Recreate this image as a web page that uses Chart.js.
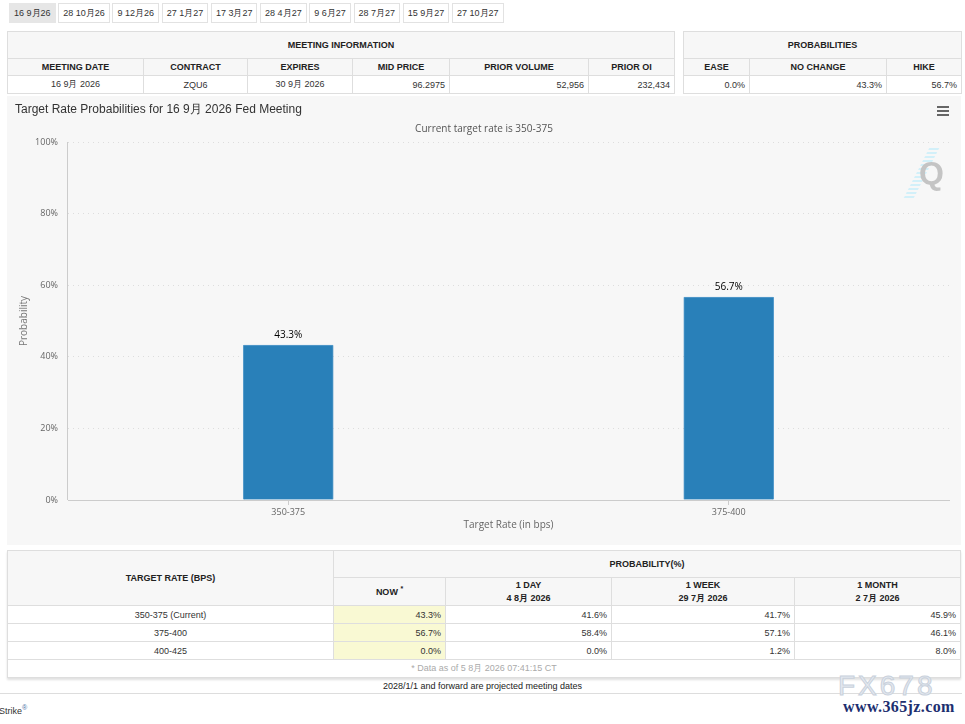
<!DOCTYPE html>
<html>
<head>
<meta charset="utf-8">
<script src="https://cdn.jsdelivr.net/npm/chart.js@4.4.1/dist/chart.umd.min.js"></script>
<style>
  body { margin: 0; width: 965px; height: 724px; overflow: hidden; position: relative; background: #fff;
         font-family: "Liberation Sans", Arial, sans-serif; color: #333; }
  .tabs { position: absolute; left: 9px; top: 3px; white-space: nowrap; font-size: 9px; display: flex; }
  .tabs span { display: block; box-sizing: border-box; height: 20px; line-height: 18px; padding: 0 4px;
               border: 1px solid #e2e2e2; margin-right: 2.7px; color: #333; }
  .tabs span.on { background: #e6e6e6; border-color: #e6e6e6; }
  table { position: absolute; border-collapse: collapse; table-layout: fixed; font-size: 9px; }
  th, td { border: 1px solid #dedede; padding: 0 4px; overflow: hidden; white-space: nowrap; }
  th { background: #f7f7f7; font-weight: bold; color: #222; text-align: center; }
  td { background: #fff; color: #333; }
  td.c { text-align: center; }
  td.r { text-align: right; }
  td.now { background: #f9f9d3; }
  td.note { text-align: center; color: #aaa; }
  sup { font-size: 7px; vertical-align: 4px; line-height: 0; }
  #probTable { box-shadow: 0 2px 2px rgba(0,0,0,0.12); }
  #panel { position: absolute; left: 7px; top: 96px; width: 954px; height: 449px; background: #f7f7f7; }
  #panel canvas { position: absolute; left: 0; top: 0; }
  #title { position: absolute; left: 8px; top: 5px; font-size: 12px; color: #333; }
  #subtitle { position: absolute; left: 0; width: 954px; top: 25px; text-align: center;
              font-family: "Open Sans", sans-serif; font-size: 10px; color: #555; }
  #menu { position: absolute; left: 930px; top: 10px; width: 12px; }
  #menu i { display: block; height: 2px; background: #666; margin-bottom: 2px; }
  #logoStripes { position: absolute; left: 909px; top: 52px; width: 10px; height: 52px; transform: skewX(-27deg);
                 background: repeating-linear-gradient(to bottom, #d2f0f9 0 2px, transparent 2px 4px); }
  #logoQ { position: absolute; left: 912px; top: 59px; font-size: 32px; font-weight: bold; color: #c4c4c4;
           font-family: "Liberation Sans", Arial, sans-serif; }
  #proj { position: absolute; left: 0; width: 965px; top: 681px; text-align: center; font-size: 9px; color: #222; }
  #projLine { position: absolute; left: 0; width: 962px; top: 693px; height: 1px; background: #ddd; }
  #strike { position: absolute; left: -1px; top: 706px; font-size: 9px; color: #333; }
  #strike sup { color: #4a6fa5; }
  #wm1 { position: absolute; left: 838px; top: 670px; font-size: 28px; letter-spacing: 3px; color: #e4e9f0;
         -webkit-text-stroke: 1px #c9d1dc; font-family: "Liberation Sans", Arial, sans-serif; }
  #wm2 { position: absolute; left: 843px; top: 698px; font-size: 16px; font-weight: bold; color: #1d2f6f;
         font-family: "Liberation Serif", serif; letter-spacing: 0.4px; }
</style>
</head>
<body>
<div class="tabs" id="tabs"></div>

<table id="meetTable" style="left:7px;top:31px;width:667px"></table>
<table id="oddsTable" style="left:683px;top:31px;width:278px"></table>

<div id="panel">
  <canvas id="myChart" width="954" height="449"></canvas>
  <div id="title">Target Rate Probabilities for 16 9月 2026 Fed Meeting</div>
  <div id="subtitle">Current target rate is 350-375</div>
  <div id="menu"><i></i><i></i><i></i></div>
  <div id="logoStripes"></div>
  <div id="logoQ">Q</div>
</div>

<table id="probTable" style="left:7px;top:550px;width:953px"></table>

<div id="proj">2028/1/1 and forward are projected meeting dates</div>
<div id="projLine"></div>
<div id="strike">Strike<sup>®</sup></div>
<div id="wm1">FX678</div>
<div id="wm2">www.365jz.com</div>

<script>
// datos
const meetingTabs = ['16 9月26', '28 10月26', '9 12月26', '27 1月27', '17 3月27', '28 4月27', '9 6月27', '28 7月27', '15 9月27', '27 10月27']

const meetingCols = ['MEETING DATE', 'CONTRACT', 'EXPIRES', 'MID PRICE', 'PRIOR VOLUME', 'PRIOR OI']
const meetingVals = ['16 9月 2026', 'ZQU6', '30 9月 2026', '96.2975', '52,956', '232,434']
const meetingWidths = [136, 104, 105, 97, 139, 86]
const meetingAlign = ['c', 'c', 'c', 'r', 'r', 'r']

const oddsCols = ['EASE', 'NO CHANGE', 'HIKE']
const oddsVals = ['0.0%', '43.3%', '56.7%']
const oddsWidths = [66, 137, 75]

const rateLabels = ['350-375', '375-400']
const rateProbs = [43.3, 56.7]

const targetRates = ['350-375 (Current)', '375-400', '400-425']
const nowProbs = [43.3, 56.7, 0.0]
const dayProbs = [41.6, 58.4, 0.0]
const weekProbs = [41.7, 57.1, 1.2]
const monthProbs = [45.9, 46.1, 8.0]
const periodHeads = [['1 DAY', '4 8月 2026'], ['1 WEEK', '29 7月 2026'], ['1 MONTH', '2 7月 2026']]
const probWidths = [326, 112, 166, 183, 166]
const dataNote = '* Data as of 5 8月 2026 07:41:15 CT'

/*
  Tablas HTML
*/

document.getElementById('tabs').innerHTML = meetingTabs
    .map((t, i) => `<span class="${i === 0 ? 'on' : ''}">${t}</span>`).join('')

const cols = widths => '<colgroup>' + widths.map(w => `<col style="width:${w}px">`).join('') + '</colgroup>'

document.getElementById('meetTable').innerHTML = cols(meetingWidths) +
    `<tr><th colspan="6" style="height:26px">MEETING INFORMATION</th></tr>` +
    `<tr>${meetingCols.map(c => `<th style="height:16px">${c}</th>`).join('')}</tr>` +
    `<tr>${meetingVals.map((v, i) => `<td class="${meetingAlign[i]}" style="height:17px">${v}</td>`).join('')}</tr>`

document.getElementById('oddsTable').innerHTML = cols(oddsWidths) +
    `<tr><th colspan="3" style="height:26px">PROBABILITIES</th></tr>` +
    `<tr>${oddsCols.map(c => `<th style="height:16px">${c}</th>`).join('')}</tr>` +
    `<tr>${oddsVals.map(v => `<td class="r" style="height:17px">${v}</td>`).join('')}</tr>`

const pct = v => v.toFixed(1) + '%'

document.getElementById('probTable').innerHTML = cols(probWidths) +
    `<tr><th rowspan="2">TARGET RATE (BPS)</th><th colspan="4" style="height:26px">PROBABILITY(%)</th></tr>` +
    `<tr><th style="height:27px">NOW <sup>*</sup></th>` +
    periodHeads.map(h => `<th style="line-height:13px">${h[0]}<br>${h[1]}</th>`).join('') + `</tr>` +
    targetRates.map((r, i) =>
        `<tr><td class="c" style="height:17px">${r}</td><td class="r now">${pct(nowProbs[i])}</td>` +
        `<td class="r">${pct(dayProbs[i])}</td><td class="r">${pct(weekProbs[i])}</td><td class="r">${pct(monthProbs[i])}</td></tr>`
    ).join('') +
    `<tr><td class="note" colspan="5" style="height:17px">${dataNote}</td></tr>`

/*
  Chart.js
*/

const fontAxis = '"Open Sans", sans-serif'

// etiquetas encima de cada barra
const barLabels = {
    id: 'barLabels',
    afterDatasetsDraw(chart) {
        const ctx = chart.ctx
        const meta = chart.getDatasetMeta(0)
        ctx.save()
        ctx.font = '10px ' + fontAxis
        ctx.fillStyle = '#000'
        ctx.textAlign = 'center'
        ctx.textBaseline = 'middle'
        meta.data.forEach((bar, i) => ctx.fillText(pct(rateProbs[i]), bar.x, bar.y - 10))
        ctx.restore()
    }
}

// linea solida del eje Y
const yAxisLine = {
    id: 'yAxisLine',
    afterDraw(chart) {
        const { ctx, chartArea } = chart
        ctx.save()
        ctx.strokeStyle = '#cccccc'
        ctx.lineWidth = 1
        ctx.beginPath()
        ctx.moveTo(Math.round(chartArea.left) - 0.5, chartArea.top)
        ctx.lineTo(Math.round(chartArea.left) - 0.5, chartArea.bottom)
        ctx.stroke()
        ctx.restore()
    }
}

const ctx = document.getElementById('myChart').getContext('2d')
const myChart = new Chart(ctx, {
    type: 'bar',
    data: {
        labels: rateLabels,
        datasets: [{
            label: 'Probability',
            data: rateProbs,
            backgroundColor: '#2980b9',
            borderColor: '#5a9dcc',
            borderWidth: 1,
            borderRadius: 1,
            barThickness: 90
        }]
    },
    options: {
        responsive: false,
        animation: false,
        layout: {
            padding: { left: 7, right: 12, top: 46, bottom: 10 }
        },
        plugins: {
            legend: { display: false },
            tooltip: { enabled: false }
        },
        scales: {
            x: {
                grid: { display: true, drawOnChartArea: false, drawTicks: true, tickLength: 5, offset: false, color: '#cccccc' },
                border: { color: '#cccccc' },
                ticks: { color: '#666', font: { family: fontAxis, size: 9 }, padding: 2 },
                title: { display: true, text: 'Target Rate (in bps)', color: '#666', font: { family: fontAxis, size: 10 }, padding: 4 },
                afterFit(scale) { scale.height = 35 }
            },
            y: {
                min: 0,
                max: 100,
                ticks: { stepSize: 20, callback: v => v + '%', color: '#666', font: { family: fontAxis, size: 9 }, padding: 10 },
                grid: { color: '#dddddd', drawTicks: false },
                border: { display: false, dash: [1, 4] },
                title: { display: true, text: 'Probability', color: '#777', font: { family: fontAxis, size: 10 }, padding: 4 },
                afterFit(scale) { scale.width = 54 }
            }
        }
    },
    plugins: [barLabels, yAxisLine]
})
</script>
</body>
</html>
